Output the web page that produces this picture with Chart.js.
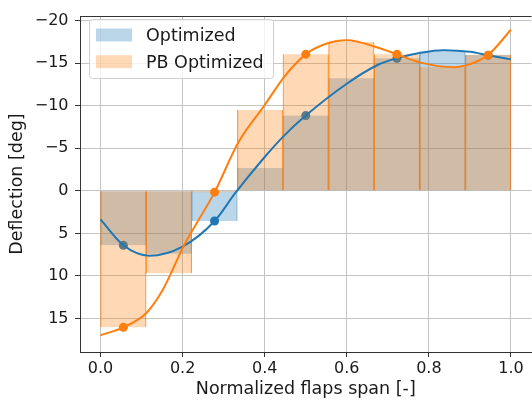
<!DOCTYPE html>
<html>
<head>
<meta charset="utf-8">
<script src="https://cdn.jsdelivr.net/npm/chart.js@4/dist/chart.umd.min.js"></script>
<style>
  html, body { margin: 0; padding: 0; background: #fff; width: 532px; height: 403px; overflow: hidden; }
  canvas { display: block; }
</style>
</head>
<body>
<canvas id="c" width="536" height="403"></canvas>
<script>
// ---- data ----
const flapCenters = [0.0556, 0.1667, 0.2778, 0.3889, 0.5, 0.6111, 0.7222, 0.8333, 0.9444];
const optimizedFlaps = [6.4, 7.4, 3.55, -2.7, -8.85, -13.25, -15.6, -16.4, -16.0];
const pbOptimizedFlaps = [16.05, 9.7, 0.15, -9.5, -16.05, -17.5, -16.05, -14.55, -16.0];

const markerX = [0.0556, 0.2778, 0.5, 0.7222, 0.9444];
const optimizedMarkers = [6.4, 3.55, -8.85, -15.6, -15.95];
const pbOptimizedMarkers = [16.05, 0.15, -16.05, -16.05, -15.96];

const optimizedCurveX = [0, 0.0556, 0.119, 0.2, 0.278, 0.328, 0.4, 0.445, 0.5, 0.6, 0.675, 0.722, 0.78, 0.836, 0.9, 0.944, 1.0];
const optimizedCurveY = [3.36, 6.4, 7.62, 6.55, 3.55, 0.28, -3.98, -6.38, -8.85, -12.6, -14.8, -15.6, -16.25, -16.54, -16.35, -15.95, -15.46];

const pbCurveX = [0, 0.0556, 0.111, 0.151, 0.203, 0.278, 0.336, 0.4, 0.449, 0.5, 0.546, 0.6, 0.675, 0.722, 0.78, 0.861, 0.9, 0.944, 1.0];
const pbCurveY = [16.98, 16.05, 14.4, 11.7, 6.46, 0.15, -5.72, -10.1, -13.5, -16.05, -17.24, -17.7, -16.86, -16.05, -15.08, -14.54, -14.9, -15.96, -18.94];

const xTickValues = [0, 0.2, 0.4, 0.6, 0.8, 1.0];
const yTickValues = [-20, -15, -10, -5, 0, 5, 10, 15];

const seriesNames = ['Optimized', 'PB Optimized'];
const xTitle = 'Normalized flaps span [-]';
const yTitle = 'Deflection [deg]';

// ---- styling ----
const BLUE = '#1f77b4';
const ORANGE = '#ff7f0e';
const FONT = "'DejaVu Sans', sans-serif";
const TEXT = '#1a1a1a';
const GRID = '#c4c4c4';
const SPINE = '#333333';

const pts = (xs, ys) => xs.map((x, i) => ({ x: x, y: ys[i] }));

const topSpine = {
  id: 'topSpine',
  afterDraw(chart) {
    const { ctx, chartArea: a } = chart;
    ctx.save();
    ctx.strokeStyle = SPINE;
    ctx.lineWidth = 1;
    ctx.beginPath();
    const y = Math.round(a.top) + 0.5;
    ctx.moveTo(a.left, y);
    ctx.lineTo(a.right, y);
    ctx.stroke();
    ctx.restore();
  }
};

const boxLegend = {
  id: 'boxLegend',
  afterDraw(chart) {
    const ctx = chart.ctx;
    const items = chart.data.datasets.filter(d => d.showInLegend);
    const bx = 89.5, by = 19.5, bw = 184, bh = 59, r = 3;
    ctx.save();
    ctx.beginPath();
    ctx.moveTo(bx + r, by);
    ctx.lineTo(bx + bw - r, by);
    ctx.quadraticCurveTo(bx + bw, by, bx + bw, by + r);
    ctx.lineTo(bx + bw, by + bh - r);
    ctx.quadraticCurveTo(bx + bw, by + bh, bx + bw - r, by + bh);
    ctx.lineTo(bx + r, by + bh);
    ctx.quadraticCurveTo(bx, by + bh, bx, by + bh - r);
    ctx.lineTo(bx, by + r);
    ctx.quadraticCurveTo(bx, by, bx + r, by);
    ctx.closePath();
    ctx.fillStyle = 'rgba(255,255,255,0.8)';
    ctx.fill();
    ctx.strokeStyle = 'rgba(204,204,204,0.9)';
    ctx.lineWidth = 1;
    ctx.stroke();
    ctx.font = "17.5px " + FONT;
    ctx.textBaseline = 'alphabetic';
    ctx.textAlign = 'left';
    items.forEach((d, i) => {
      const py = 28.5 + i * 26.7;
      ctx.fillStyle = d.backgroundColor;
      ctx.fillRect(96, py, 36, 13);
      ctx.fillStyle = TEXT;
      ctx.fillText(d.label, 146, 41 + i * 26.6);
    });
    ctx.restore();
  }
};

const barCommon = {
  type: 'bar',
  borderWidth: { left: 0.5, right: 0.5, top: 0, bottom: 0 },
  borderSkipped: false,
  grouped: false,
  barPercentage: 1,
  categoryPercentage: 1,
  showInLegend: true
};

new Chart(document.getElementById('c'), {
  type: 'bar',
  data: {
    datasets: [
      Object.assign({}, barCommon, {
        label: seriesNames[0],
        data: pts(flapCenters, optimizedFlaps),
        backgroundColor: 'rgba(31,119,180,0.3)',
        borderColor: 'rgba(31,119,180,0.4)',
        order: 6
      }),
      {
        type: 'line', label: seriesNames[0] + ' points',
        data: pts(markerX, optimizedMarkers),
        showLine: false, pointRadius: 4.5, pointBorderWidth: 0,
        pointBackgroundColor: BLUE, borderColor: BLUE, order: 5
      },
      Object.assign({}, barCommon, {
        label: seriesNames[1],
        data: pts(flapCenters, pbOptimizedFlaps),
        backgroundColor: 'rgba(255,127,14,0.3)',
        borderColor: 'rgba(255,127,14,0.75)',
        order: 4
      }),
      {
        type: 'line', label: seriesNames[0] + ' curve',
        data: pts(optimizedCurveX, optimizedCurveY),
        borderColor: BLUE, borderWidth: 2, pointRadius: 0,
        cubicInterpolationMode: 'monotone', fill: false, order: 3
      },
      {
        type: 'line', label: seriesNames[1] + ' curve',
        data: pts(pbCurveX, pbCurveY),
        borderColor: ORANGE, borderWidth: 2, pointRadius: 0,
        cubicInterpolationMode: 'monotone', fill: false, order: 2
      },
      {
        type: 'line', label: seriesNames[1] + ' points',
        data: pts(markerX, pbOptimizedMarkers),
        showLine: false, pointRadius: 4.5, pointBorderWidth: 0,
        pointBackgroundColor: ORANGE, borderColor: ORANGE, order: 1
      }
    ]
  },
  options: {
    responsive: false,
    animation: false,
    devicePixelRatio: 1,
    layout: { padding: { top: 12, right: 1, left: 0, bottom: 0 } },
    plugins: { legend: { display: false }, tooltip: { enabled: false } },
    scales: {
      x: {
        type: 'linear', min: -0.05, max: 1.05, offset: false,
        afterBuildTicks: s => { s.ticks = xTickValues.map(v => ({ value: v })); },
        afterFit: s => { s.height = 51; },
        grid: { color: GRID, lineWidth: 1, offset: false, drawTicks: true, tickLength: 5, tickColor: SPINE, tickWidth: 1 },
        border: { display: true, color: SPINE, width: 1 },
        ticks: { color: TEXT, font: { family: FONT, size: 16 }, padding: 2.5, maxRotation: 0,
                 callback: v => Number(v).toFixed(1) },
        title: { display: true, text: xTitle, color: TEXT, font: { family: FONT, size: 17.5 }, padding: { top: 0, bottom: 3 } }
      },
      y: {
        type: 'linear', reverse: true, min: -20.55, max: 18.95,
        afterBuildTicks: s => { s.ticks = yTickValues.map(v => ({ value: v })); },
        afterFit: s => { s.width = 80; },
        grid: { color: GRID, lineWidth: 1, drawTicks: true, tickLength: 5, tickColor: SPINE, tickWidth: 1 },
        border: { display: true, color: SPINE, width: 1 },
        ticks: { color: TEXT, font: { family: FONT, size: 16 }, padding: 6.5,
                 callback: v => (v < 0 ? '\u2212' + Math.abs(v) : String(v)) },
        title: { display: true, text: yTitle, color: TEXT, font: { family: FONT, size: 17.5 }, padding: { top: 7, bottom: 0 } }
      }
    }
  },
  plugins: [topSpine, boxLegend]
});
</script>
</body>
</html>
